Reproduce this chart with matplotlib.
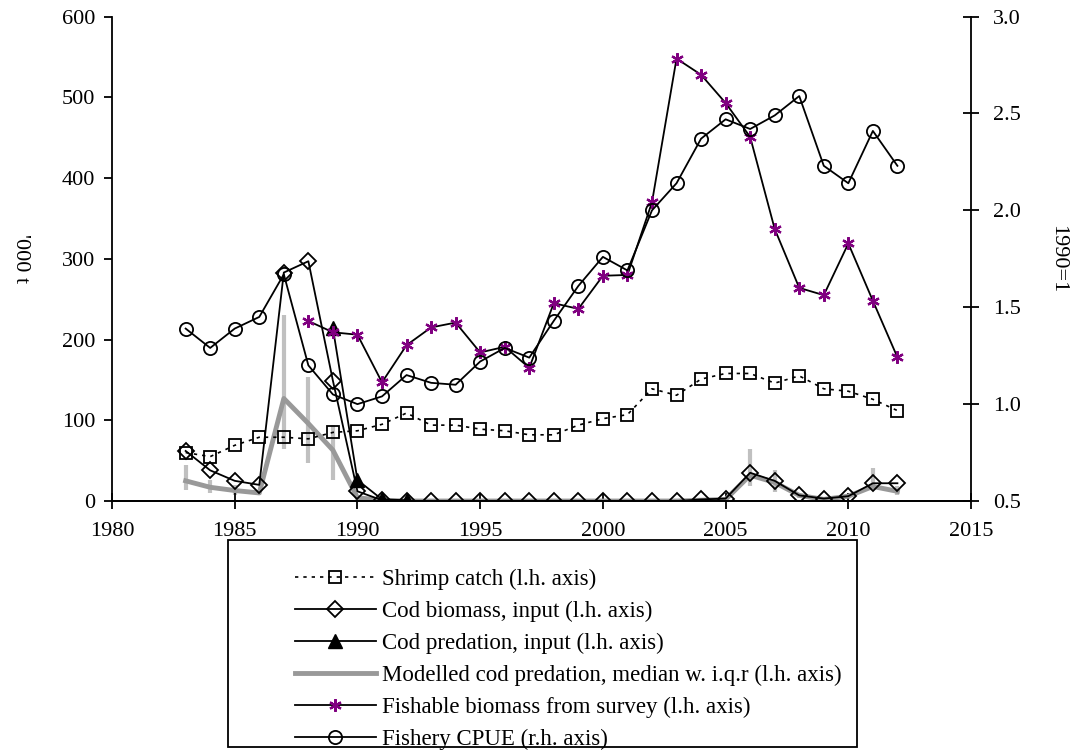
import numpy as np
import matplotlib.pyplot as plt
from matplotlib.patches import Rectangle

plt.rcParams['font.family'] = 'Liberation Serif'
plt.rcParams['font.size'] = 16

years = np.arange(1983, 2013)

shrimp = [60, 55, 69, 79, 79, 77, 85, 87, 95, 109, 94, 94, 89, 87, 82,
          82, 94, 102, 107, 139, 131, 151, 158, 158, 146, 155, 139, 136, 126, 112]

cod_bio = [62, 38, 25, 20, 283, 297, 149, 12, 1, 0, 0, 0, 0, 0, 0,
           0, 0, 0, 0, 0, 0, 2, 3, 35, 25, 7, 3, 6, 22, 22]

pred_years = np.arange(1989, 1993)
cod_pred = [214, 26, 2, 1]

# modelled cod predation: median and inter-quartile range
cod_model = [25, 17, 13, 10, 127, 96, 63, 4, 1, 0, 0, 0, 0, 0, 0,
             0, 0, 0, 0, 0, 0, 1, 2, 32, 23, 7, 2, 6, 18, 12]
iqr_lo = [14, 10, 7, 7, 65, 47, 26, 1, 0, 0, 0, 0, 0, 0, 0,
          0, 0, 0, 0, 0, 0, 0, 1, 18, 11, 4, 1, 3, 16, 8]
iqr_hi = [45, 26, 20, 12, 231, 154, 94, 8, 2, 0, 0, 0, 0, 0, 0,
          0, 0, 0, 0, 0, 0, 2, 4, 65, 38, 10, 4, 9, 41, 18]

fish_years = np.arange(1988, 2013)
fishable = [223, 209, 206, 147, 193, 215, 221, 184, 191, 165, 245, 238, 279,
            280, 370, 548, 528, 493, 451, 337, 264, 255, 319, 248, 178]

cpue = [1.39, 1.29, 1.39, 1.45, 1.67, 1.20, 1.05, 1.00, 1.04, 1.15, 1.11, 1.10,
        1.22, 1.29, 1.24, 1.43, 1.61, 1.76, 1.69, 2.00, 2.14, 2.37, 2.47, 2.42,
        2.49, 2.59, 2.23, 2.14, 2.41, 2.23]

labels = ['Shrimp catch (l.h. axis)',
          'Cod biomass, input (l.h. axis)',
          'Cod predation, input (l.h. axis)',
          'Modelled cod predation, median w. i.q.r (l.h. axis)',
          'Fishable biomass from survey (l.h. axis)',
          'Fishery CPUE (r.h. axis)']

fig = plt.figure(figsize=(10.75, 7.55), dpi=100)
ax = fig.add_axes([0.1042, 0.3364, 0.7991, 0.6416])
ax2 = ax.twinx()

ax.vlines(years, iqr_lo, iqr_hi, color='#c0c0c0', lw=3, zorder=1)
h_mod, = ax.plot(years, cod_model, color='#999999', lw=3.5, zorder=2)
h_shr, = ax.plot(years, shrimp, ls=(0, (2, 3)), color='k', lw=1.2, marker='s',
                 ms=8, mfc='none', mec='k', mew=1.3, zorder=3)
h_cod, = ax.plot(years, cod_bio, '-', color='k', lw=1.3, marker='D', ms=8,
                 mfc='none', mew=1.3, zorder=4)
h_pred, = ax.plot(pred_years, cod_pred, '-', color='k', lw=1.3, marker='^',
                  ms=10, mfc='k', zorder=5)
h_fish, = ax.plot(fish_years, fishable, '-', color='k', lw=1.3, marker=(6, 2, 0),
                  ms=9, mec='#800080', mew=1.6, zorder=6)
h_cpue, = ax2.plot(years, cpue, '-', color='k', lw=1.3, marker='o', ms=9.5,
                   mfc='none', mew=1.3)

ax.set_xlim(1980, 2015)
ax.set_ylim(0, 600)
ax2.set_ylim(0.5, 3.0)
ax.set_xticks(range(1980, 2016, 5))
ax.set_yticks(range(0, 601, 100))
ax2.set_yticks(np.arange(0.5, 3.01, 0.5))
ax2.yaxis.set_major_formatter(plt.FormatStrFormatter('%.1f'))

for a in (ax, ax2):
    a.spines['top'].set_visible(False)
    for s in a.spines.values():
        s.set_linewidth(1.3)
ax.spines['right'].set_visible(False)
ax2.spines['left'].set_visible(False)

ax.tick_params(axis='y', direction='out', length=6, width=1.3, pad=6)
ax.tick_params(axis='x', direction='inout', length=12, width=1.3, pad=9)
ax2.tick_params(axis='y', direction='inout', length=12, width=1.3, pad=10)

ax.set_ylabel("'000 t", rotation=270, va='center')
ax.yaxis.set_label_coords(-0.107, 0.5)
ax2.set_ylabel('1990=1', rotation=270, va='center')
ax2.yaxis.set_label_coords(1.101, 0.5)

fig.legend([h_shr, h_cod, h_pred, h_mod, h_fish, h_cpue], labels,
           loc='upper left', bbox_to_anchor=(0.2556, 0.2734), frameon=False,
           fontsize=16.5, handlelength=3.5, handletextpad=0.27, labelspacing=0.47,
           borderpad=0.4)
fig.add_artist(Rectangle((228 / 1075, 1 - 747 / 755), 629 / 1075, 207 / 755,
                         transform=fig.transFigure, fill=False, lw=1.3, ec='k'))

fig.savefig('out.png', dpi=100)
